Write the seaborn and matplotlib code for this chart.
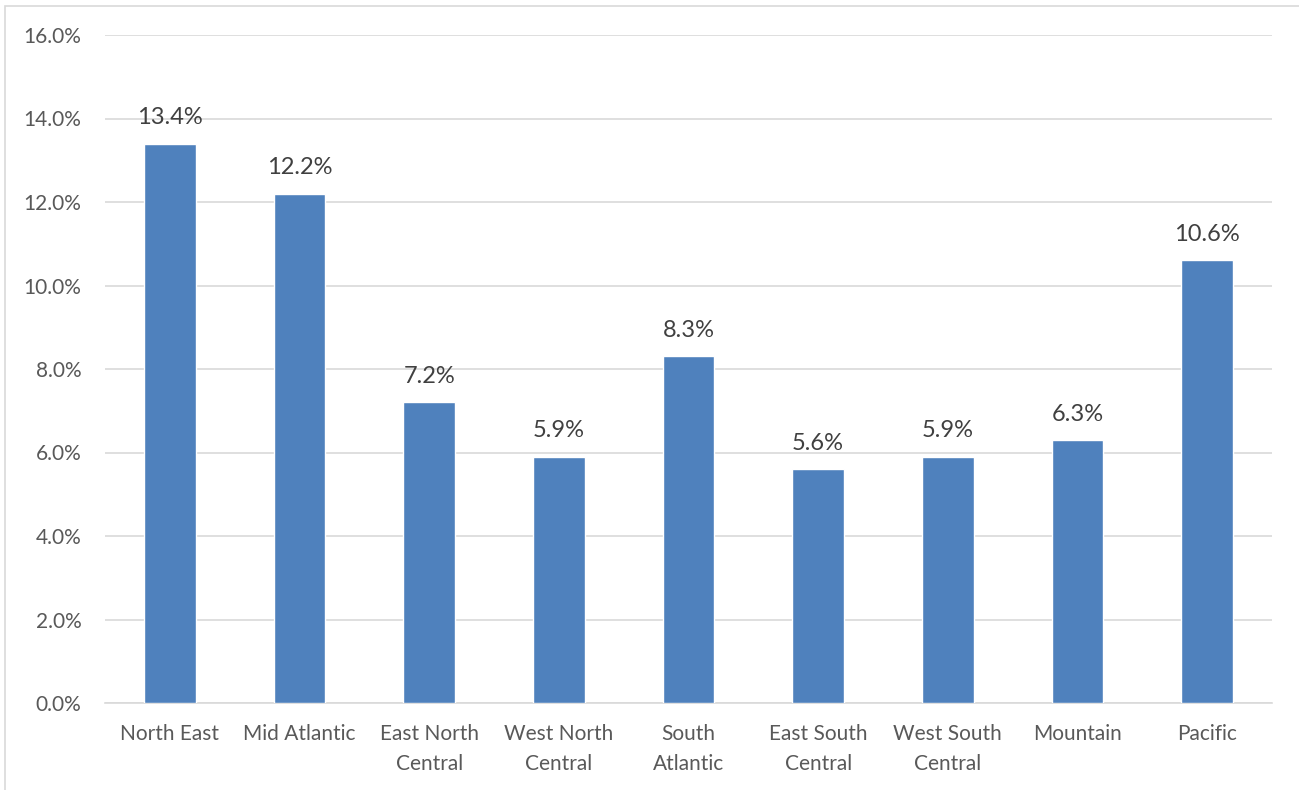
import matplotlib
matplotlib.use("Agg")
import matplotlib.pyplot as plt
import seaborn as sns
import pandas as pd
from matplotlib.patches import Rectangle
from matplotlib.ticker import FuncFormatter, MultipleLocator

regions = ["North East", "Mid Atlantic", "East North\nCentral", "West North\nCentral",
           "South\nAtlantic", "East South\nCentral", "West South\nCentral", "Mountain", "Pacific"]
shares = [13.4, 12.2, 7.2, 5.9, 8.3, 5.6, 5.9, 6.3, 10.6]

df = pd.DataFrame({"region": regions, "share": shares})

sns.set_theme(style="white")
plt.rcParams["font.family"] = ["Lato", "DejaVu Sans"]

text_color = "#595959"
bar_color = "#4F81BD"
grid_color = "#D9D9D9"

fig = plt.figure(figsize=(12.99, 7.90), dpi=100)
ax = fig.add_axes([105 / 1299, 1 - 703 / 790, (1272 - 105) / 1299, (703 - 35) / 790])

sns.barplot(data=df, x="region", y="share", color=bar_color, width=0.4,
            saturation=1, ax=ax, zorder=3)

ax.set_ylim(0, 16)
ax.set_xlim(-0.5, len(regions) - 0.5)
ax.yaxis.set_major_locator(MultipleLocator(2))
ax.yaxis.set_major_formatter(FuncFormatter(lambda v, _: f"{v:.1f}%"))
ax.grid(axis="y", color=grid_color, linewidth=1.2, zorder=0)
ax.set_xlabel("")
ax.set_ylabel("")
for side in ["top", "right", "left"]:
    ax.spines[side].set_visible(False)
ax.spines["bottom"].set_color(grid_color)
ax.spines["bottom"].set_linewidth(1.2)
ax.tick_params(axis="y", length=0, pad=17, labelsize=15, labelcolor=text_color)
ax.tick_params(axis="x", length=0, pad=15, labelsize=15, labelcolor=text_color)
for lbl in ax.get_xticklabels():
    lbl.set_linespacing(1.65)

for i, v in enumerate(shares):
    ax.annotate(f"{v:.1f}%", (i, v), xytext=(0, 11), textcoords="offset points",
                ha="center", va="bottom", fontsize=17, color="#404040")

# light frame around the chart area
fig.patches.append(Rectangle((5 / 1299, -0.01), 1.02, 1 - 6 / 790 + 0.01,
                             transform=fig.transFigure, fill=False,
                             edgecolor=grid_color, linewidth=1.2))

fig.savefig("out.png", dpi=100, facecolor="white")
